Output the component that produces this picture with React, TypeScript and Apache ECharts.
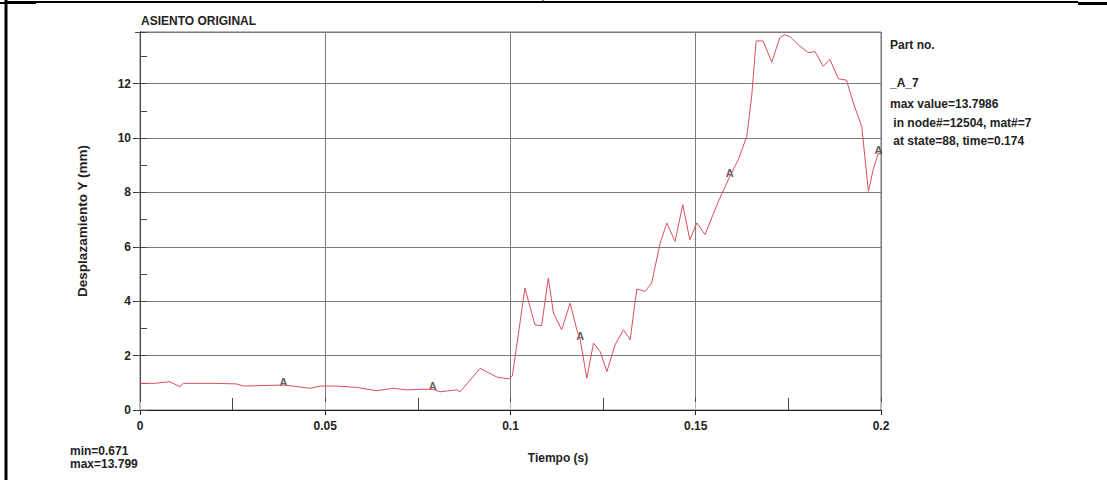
import React, { useEffect, useRef } from "react";
import * as echarts from "echarts";

const times = [0, 0.004, 0.008, 0.0108, 0.0117, 0.02, 0.026, 0.028, 0.0387, 0.0459, 0.0486, 0.0531, 0.0585, 0.0639, 0.0683, 0.072, 0.0756, 0.079, 0.081, 0.0855, 0.0864, 0.0918, 0.0965, 0.0995, 0.1005, 0.1039, 0.1066, 0.1084, 0.1102, 0.1116, 0.1138, 0.1161, 0.1179, 0.1188, 0.1206, 0.1224, 0.1242, 0.126, 0.1282, 0.1305, 0.1323, 0.1341, 0.1363, 0.1381, 0.1404, 0.1422, 0.1444, 0.1465, 0.1484, 0.1503, 0.1525, 0.1561, 0.1592, 0.1615, 0.1638, 0.1651, 0.1663, 0.1682, 0.1705, 0.1727, 0.174, 0.1754, 0.1781, 0.1804, 0.1822, 0.1844, 0.1862, 0.1885, 0.1907, 0.1925, 0.1948, 0.1966, 0.1979, 0.1993, 0.2];
const displacement = [0.98, 0.98, 1.04, 0.86, 0.98, 0.98, 0.96, 0.88, 0.92, 0.8, 0.88, 0.88, 0.83, 0.71, 0.8, 0.74, 0.76, 0.76, 0.67, 0.74, 0.671, 1.53, 1.2, 1.15, 1.25, 4.48, 3.13, 3.1, 4.85, 3.56, 2.95, 3.93, 2.95, 2.6, 1.17, 2.46, 2.15, 1.41, 2.39, 2.95, 2.58, 4.45, 4.36, 4.67, 6.14, 6.88, 6.2, 7.55, 6.26, 6.88, 6.45, 7.67, 8.59, 9.21, 10.07, 11.54, 13.57, 13.57, 12.79, 13.69, 13.799, 13.73, 13.38, 13.14, 13.18, 12.64, 12.89, 12.18, 12.13, 11.3, 10.43, 8.04, 8.84, 9.45, 9.4];

const markerTimes = [0.0387, 0.079, 0.1188, 0.1592, 0.1993];
const markerValues = [0.92, 0.76, 2.6, 8.59, 9.45];

const title = "ASIENTO ORIGINAL";
const yName = "Desplazamiento Y (mm)";
const xName = "Tiempo (s)";
const minMaxLines = ["min=0.671", "max=13.799"];
const legendLines = ["Part no.", "_A_7", "max value=13.7986", " in node#=12504, mat#=7", " at state=88, time=0.174"];

const FONT = "'Liberation Sans', Arial, sans-serif";

export default function App() {
  const ref = useRef<HTMLDivElement>(null);
  useEffect(() => {
    if (!ref.current) return;
    const chart = echarts.init(ref.current, null, { renderer: "svg" });
    const lineData = times.map((t, i) => [t, displacement[i]]);
    const markerData = markerTimes.map((t, i) => [t, markerValues[i]]);
    const textStyle = { fontFamily: FONT, fontWeight: "bold", fill: "#222", fontSize: 12 };
    const legendY = [45, 83, 104, 123, 141];
    chart.setOption({
      animation: false,
      backgroundColor: "#fff",
      grid: { left: 140, right: 226, top: 32, bottom: 70, show: true, borderColor: "#777", borderWidth: 1 },
      xAxis: [
        {
          type: "value", min: 0, max: 0.2, interval: 0.05, position: "bottom",
          axisLine: { show: true, lineStyle: { color: "#222", width: 1 } },
          axisTick: { show: true, inside: false, length: 5, lineStyle: { color: "#222" } },
          axisLabel: { margin: 10, fontFamily: FONT, fontWeight: "bold", fontSize: 12, color: "#222" },
          splitLine: { show: true, lineStyle: { color: "#7a7a7a", width: 1 } },
        },
        {
          type: "value", min: 0, max: 0.2, interval: 0.025, position: "bottom",
          axisLine: { show: false }, axisLabel: { show: false }, splitLine: { show: false },
          axisTick: { show: true, inside: true, length: 12, lineStyle: { color: "#444" } },
        },
        {
          type: "value", min: 0, max: 0.2, interval: 0.05, position: "top",
          axisLine: { show: false }, axisLabel: { show: false }, splitLine: { show: false },
          axisTick: { show: true, inside: false, length: 8, lineStyle: { color: "#bbb" } },
        },
      ],
      yAxis: [
        {
          type: "value", min: 0, max: 13.9, interval: 2, position: "left",
          name: yName, nameLocation: "middle", nameGap: 51,
          nameTextStyle: { fontFamily: FONT, fontWeight: "bold", fontSize: 13.5, color: "#222" },
          axisLine: { show: true, lineStyle: { color: "#222", width: 1 } },
          axisTick: { show: true, inside: false, length: 7, lineStyle: { color: "#222" } },
          axisLabel: { margin: 9, showMaxLabel: false, fontFamily: FONT, fontWeight: "bold", fontSize: 12, color: "#222" },
          splitLine: { show: true, lineStyle: { color: "#7a7a7a", width: 1 } },
        },
        {
          type: "value", min: 0, max: 13.9, interval: 1, position: "left",
          axisLine: { show: false }, axisLabel: { show: false }, splitLine: { show: false },
          axisTick: { show: true, inside: true, length: 7, lineStyle: { color: "#444" } },
        },
        {
          type: "value", min: 0, max: 13.9, interval: 2, position: "right",
          axisLine: { show: true, lineStyle: { color: "#444" } }, axisLabel: { show: false }, splitLine: { show: false },
          axisTick: { show: true, inside: true, length: 5, lineStyle: { color: "#444" } },
        },
      ],
      series: [
        {
          type: "line", xAxisIndex: 0, yAxisIndex: 0, data: lineData, showSymbol: false, symbol: "none",
          lineStyle: { color: "#d9505a", width: 1 },
        },
        {
          type: "scatter", xAxisIndex: 0, yAxisIndex: 0, data: markerData, symbolSize: 1,
          itemStyle: { color: "rgba(0,0,0,0)" },
          label: {
            show: true, formatter: "A", position: "inside", offset: [0, -3],
            fontFamily: FONT, fontWeight: "bold", fontSize: 11, color: "#333",
          },
        },
      ],
      graphic: [
        { type: "line", shape: { x1: 6, y1: 2, x2: 1078, y2: 2 }, style: { stroke: "#000", lineWidth: 2 } },
        { type: "line", shape: { x1: 0, y1: 3, x2: 36, y2: 3 }, style: { stroke: "#000", lineWidth: 2 } },
        { type: "line", shape: { x1: 1078, y1: 3.5, x2: 1107, y2: 3.5 }, style: { stroke: "#000", lineWidth: 3 } },
        { type: "line", shape: { x1: 6, y1: 0, x2: 6, y2: 480 }, style: { stroke: "#000", lineWidth: 3 } },
        { type: "line", shape: { x1: 543, y1: 0, x2: 543, y2: 3 }, style: { stroke: "#000", lineWidth: 1 } },
        {
          type: "text", x: 141, y: 21,
          style: { ...textStyle, text: title, fontSize: 12, verticalAlign: "middle", align: "left" },
        },
        {
          type: "text", x: 558, y: 458,
          style: { ...textStyle, text: xName, verticalAlign: "middle", align: "center" },
        },
        ...minMaxLines.map((s, i) => ({
          type: "text", x: 70, y: 451 + i * 13,
          style: { ...textStyle, text: s, verticalAlign: "middle", align: "left" },
        })),
        ...legendLines.map((s, i) => ({
          type: "text", x: 890, y: legendY[i],
          style: { ...textStyle, text: s, verticalAlign: "middle", align: "left" },
        })),
      ],
    });
    return () => chart.dispose();
  }, []);
  return <div ref={ref} style={{ position: "absolute", left: 0, top: 0, width: 1107, height: 480 }} />;
}
